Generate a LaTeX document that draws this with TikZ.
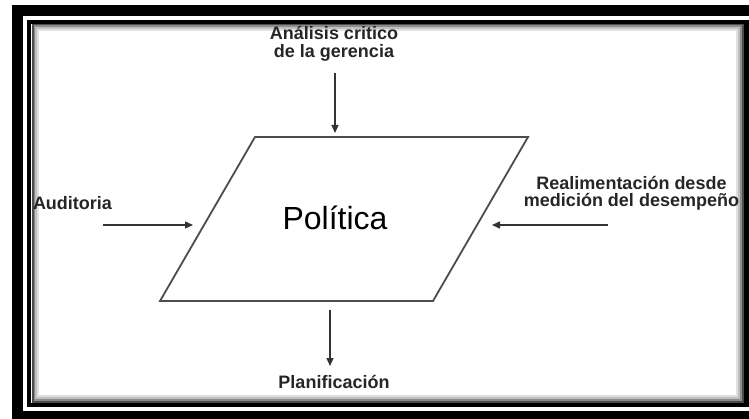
\documentclass[tikz,border=0pt]{standalone}
\usepackage{fontspec}
\setmainfont{Liberation Sans}
\usetikzlibrary{arrows.meta}
\begin{document}
\begin{tikzpicture}[x=1pt,y=-1pt,
  lbl/.style={font=\fontsize{18}{17.5}\selectfont\bfseries, text=black!85, align=center, inner sep=0pt},
  arr/.style={draw=black!80, line width=1.3pt, -{Triangle[length=8pt,width=7pt]}},
  parashape/.style={draw=black!70, line width=1.8pt, line join=miter}]
\useasboundingbox (0,0) rectangle (749,419);
\clip (0,0) rectangle (749,419);
\fill[white] (0,0) rectangle (749,419);
% outer frame band
\draw[line width=11pt] (17.5,10.5) rectangle (770,416.5);
% inner frame with shadow
\draw[black!12, line width=2pt] (38,30) rectangle (737,396);
\draw[black!25, line width=2pt] (36,28) rectangle (739,398);
\draw[black!45, line width=2pt] (34,26) rectangle (741,400);
\draw[black!70, line width=2pt] (32.5,24.5) rectangle (742.5,401.5);
\draw[black, line width=4.5pt] (29,22) rectangle (746.5,405);
% parallelogram
\coordinate (tl) at (255,137);
\coordinate (tr) at (528,137);
\coordinate (br) at (433,301);
\coordinate (bl) at (160,301);
\draw[parashape] (tl) -- (tr) -- (br) -- (bl) -- cycle;
\node[inner sep=0pt, font=\fontsize{32}{34}\selectfont] (pol) at (335,218) {Política};
% labels
\node[lbl] (ana) at (334,44) {Análisis critico\\de la gerencia};
\node[lbl] (aud) at (72.5,203) {Auditoria};
\node[lbl] (rea) at (631.5,193.5) {Realimentación desde\\medición del desempeño};
\node[lbl] (pla) at (334,382) {Planificación};
% arrows
\coordinate (a1s) at (335,73);
\coordinate (a1e) at (335,133);
\coordinate (a2s) at (103,225);
\coordinate (a2e) at (193,225);
\coordinate (a3s) at (608,225);
\coordinate (a3e) at (492,225);
\coordinate (a4s) at (330,310);
\coordinate (a4e) at (330,366);
\draw[arr] (a1s) -- (a1e);
\draw[arr] (a2s) -- (a2e);
\draw[arr] (a3s) -- (a3e);
\draw[arr] (a4s) -- (a4e);
\end{tikzpicture}
\end{document}
